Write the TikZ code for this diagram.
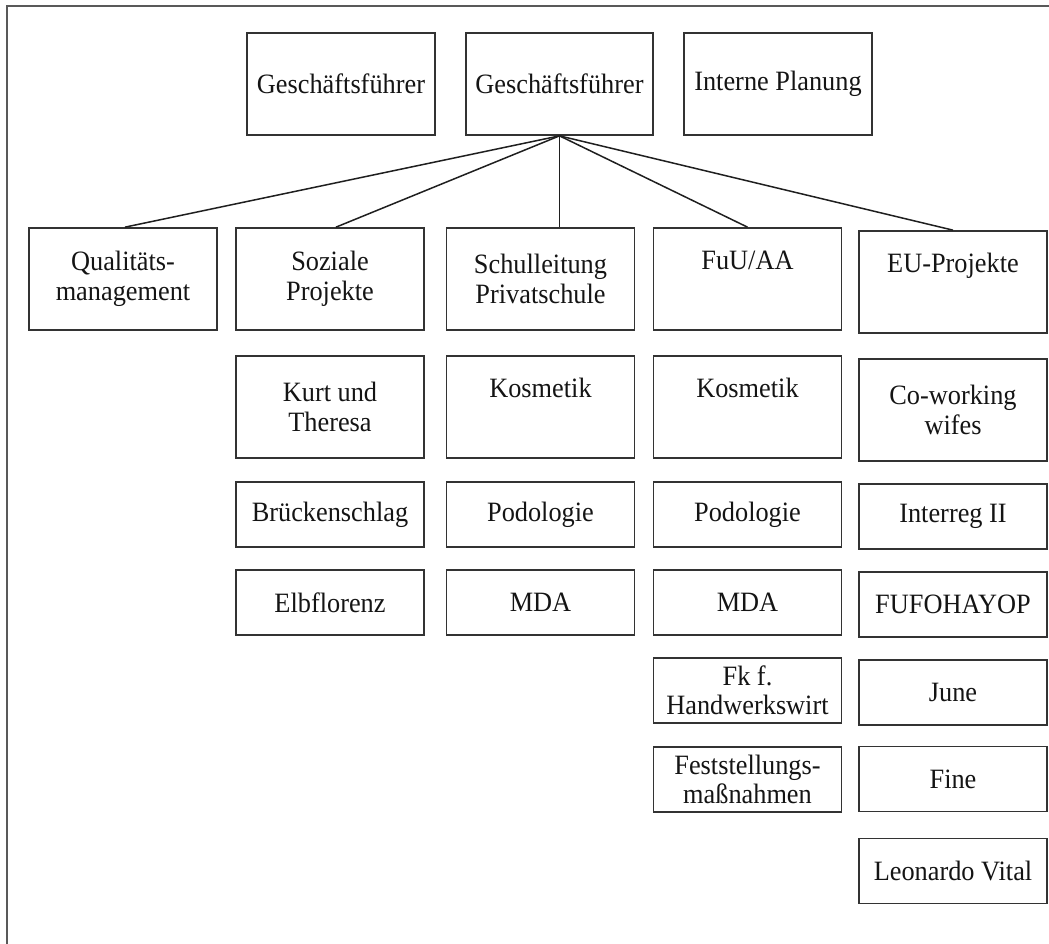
\documentclass[tikz,border=0pt]{standalone}
\usepackage{fontspec}
\setmainfont{Liberation Serif}[FakeStretch=0.94]
\begin{document}
\begin{tikzpicture}[x=1pt, y=-1pt,
  box/.style={draw=black!80, line width=1.7pt, inner sep=0pt, align=center,
    text=black!92, font=\fontsize{28}{29.5}\selectfont},
  col/.style={box, minimum width=188pt},
  tall/.style={col, minimum height=102pt},
  flat/.style={col, minimum height=65pt},
  link/.style={draw=black!88, line width=1.5pt}]
\useasboundingbox (0,0) rectangle (1049,944);
% outer frame (only top and left edges fall inside the page)
\draw[black!65, line width=1.5pt] (1049,6) -- (7,6) -- (7,944);

% top row
\node[box, minimum width=188pt, minimum height=102pt] (gf1) at (341,84) {Geschäftsführer};
\node[box, minimum width=187pt, minimum height=102pt] (gf2) at (559.5,84) {Geschäftsführer};
\node[box, minimum width=188pt, minimum height=102pt] (ip) at (778,84) {Interne Planung};

% second row
\node[tall] (qual) at (123,279) {Qualitäts-\\management};
\node[tall] (soz) at (330,279) {Soziale\\Projekte};
\node[tall] (schul) at (540.5,279) {Schulleitung\\Privatschule};
\node[tall] (fuu) at (747.5,279) {FuU/AA\\\strut};
\node[tall] (eu) at (953,282) {EU-Projekte\\\strut};

% Soziale Projekte column
\node[tall] (kurt) at (330,407) {Kurt und\\Theresa};
\node[flat] (brueck) at (330,514.5) {Brückenschlag};
\node[flat] (elb) at (330,602.5) {Elbflorenz};

% Schulleitung column
\node[tall] (kos1) at (540.5,407) {Kosmetik\\\strut};
\node[flat] (pod1) at (540.5,514.5) {Podologie};
\node[flat] (mda1) at (540.5,602.5) {MDA};

% FuU/AA column
\node[tall] (kos2) at (747.5,407) {Kosmetik\\\strut};
\node[flat] (pod2) at (747.5,514.5) {Podologie};
\node[flat] (mda2) at (747.5,602.5) {MDA};
\node[flat] (fk) at (747.5,690.5) {Fk f.\\Handwerkswirt};
\node[flat] (fest) at (747.5,779.5) {Feststellungs-\\maßnahmen};

% EU-Projekte column
\node[tall] (cow) at (953,410) {Co-working\\wifes};
\node[flat] (inter) at (953,516.5) {Interreg II};
\node[flat] (fufo) at (953,604.5) {FUFOHAYOP};
\node[flat] (june) at (953,692.5) {June};
\node[flat] (fine) at (953,779) {Fine};
\node[flat] (leo) at (953,871) {Leonardo Vital};

% connectors from the managing director
\draw[link] (gf2.south) -- ([xshift=2pt]qual.north);
\draw[link] (gf2.south) -- ([xshift=6pt]soz.north);
\draw[link] (gf2.south) -- (gf2.south |- schul.north);
\draw[link] (gf2.south) -- (fuu.north);
\draw[link] (gf2.south) -- (eu.north);
\end{tikzpicture}
\end{document}
